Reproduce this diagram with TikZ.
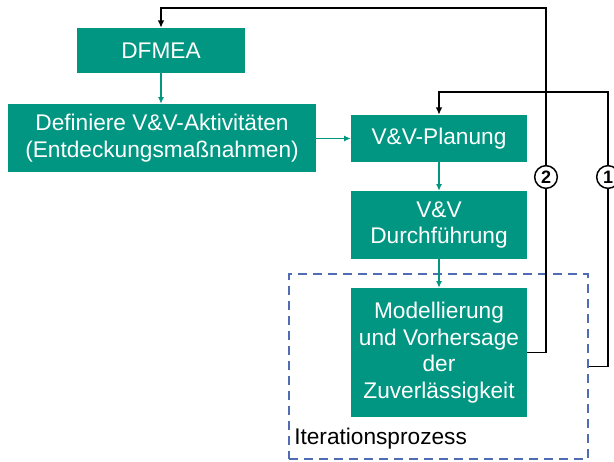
\documentclass[tikz,border=0pt]{standalone}
\usepackage{fontspec}
\setmainfont{Liberation Sans}
\usetikzlibrary{arrows.meta}
\definecolor{kitgreen}{RGB}{0,150,130}
\definecolor{iterblue}{RGB}{79,108,181}
\begin{document}
\begin{tikzpicture}[x=0.75pt,y=-0.75pt,
  stepbox/.style={rectangle, fill=kitgreen, text=white, align=center, inner sep=0pt,
    font=\fontsize{17}{20}\selectfont},
  flow/.style={draw=kitgreen, line width=0.8pt, -{Latex[length=5pt,width=4.5pt]}},
  loopline/.style={draw=black, line width=1.1pt, -{Latex[length=5.5pt,width=5pt]}},
  num/.style={circle, draw=black, line width=1.1pt, fill=white, inner sep=0pt,
    minimum size=17pt, font=\fontsize{13.5}{14}\selectfont\bfseries},
  iterbox/.style={rectangle, draw=iterblue, line width=1.5pt,
    dash pattern=on 6.75pt off 4.5pt}]
\useasboundingbox (0,0) rectangle (614,461);

% process steps
\node[stepbox, minimum width=126pt, minimum height=33.75pt] (dfmea) at (161,50.5) {DFMEA};
\node[stepbox, minimum width=231pt, minimum height=51pt] (define) at (162,138)
  {Definiere V\&V-Aktivitäten\\(Entdeckungsmaßnahmen)};
\node[stepbox, minimum width=132pt, minimum height=35.25pt] (plan) at (439,138.5) {V\&V-Planung};
\node[stepbox, minimum width=132pt, minimum height=51pt] (exec) at (439,225) {V\&V\\Durchführung};
\node[stepbox, minimum width=132pt, minimum height=96.75pt] (model) at (439,352.5)
  {Modellierung\\und Vorhersage\\der\\Zuverlässigkeit};

% iteration frame
\node[iterbox, minimum width=224.25pt, minimum height=138.75pt] (iter) at (438.5,366.5) {};
\node[anchor=west, inner sep=0pt, font=\fontsize{17}{20}\selectfont] (iterlabel) at (294,439) {Iterationsprozess};

% main flow
\draw[flow] (dfmea.south) -- (define.north -| dfmea.south);
\draw[flow] (define.east |- plan.west) -- (plan.west);
\draw[flow] (plan.south) -- (exec.north);
\draw[flow] (exec.south) -- (model.north);

% feedback loops
\coordinate (turn2) at (546,8);
\coordinate (turn1) at (608,92);
\draw[loopline] (model.east) -| (turn2) -| (dfmea.north);
\draw[loopline] (iter.east) -| (turn1) -| (plan.north);
\node[num] (n2) at (546,177) {2};
\node[num] (n1) at (608,177) {1};
\end{tikzpicture}
\end{document}
